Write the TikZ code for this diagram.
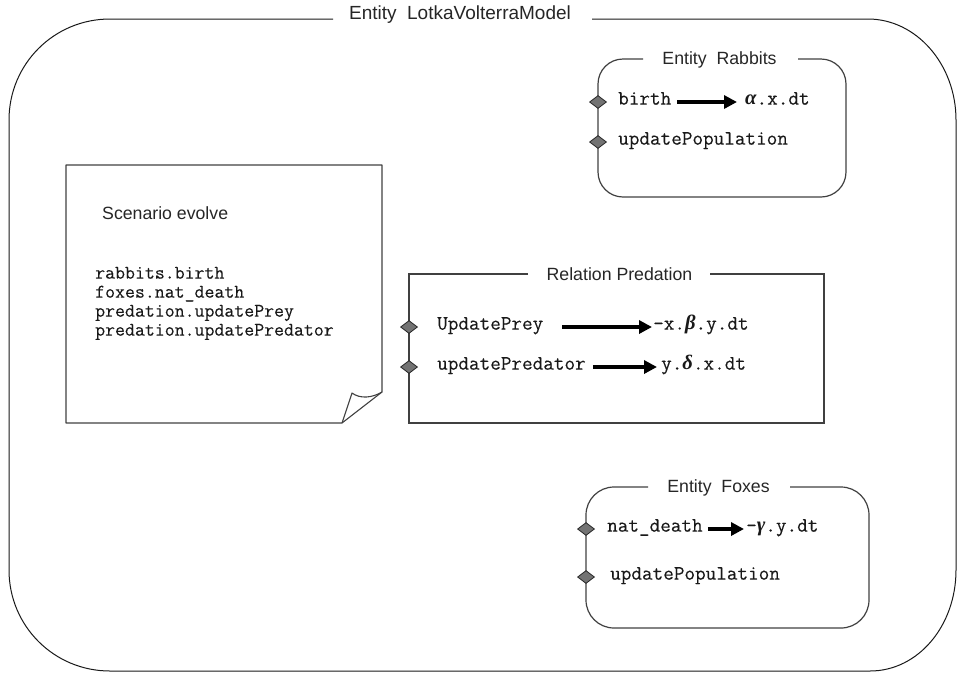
\documentclass[tikz,border=0pt]{standalone}
\usepackage{fontspec}
\setmainfont{Liberation Sans}
\newfontfamily\codefont{Latin Modern Mono}[FakeBold=0.25]
\newfontfamily\grk{Liberation Serif}
\usetikzlibrary{shapes.geometric,arrows.meta}
\newcommand{\gk}[1]{{\grk\bfseries\itshape #1}}
\begin{document}
\begin{tikzpicture}[x=1pt,y=-1pt,
  outerline/.style={draw=black!90, line width=1pt},
  boxline/.style={draw=black!75, line width=1.2pt},
  titletext/.style={font=\fontsize{17.7}{20}\selectfont, inner sep=0pt, text=black!85},
  bigtitle/.style={font=\fontsize{19}{22}\selectfont, inner sep=0pt, text=black!85},
  code/.style={font=\codefont\fontsize{20.6}{22}\selectfont, anchor=west, inner sep=0pt,
     text height=1ex, text depth=0pt, text=black!90},
  scode/.style={font=\codefont\fontsize{19.3}{19}\selectfont, anchor=west, inner sep=0pt,
     text height=1ex, text depth=0pt, text=black!90},
  port/.style={diamond, draw=black!85, fill=black!55, minimum width=17pt, minimum height=13pt,
     inner sep=0pt, line width=0.8pt},
  maps/.style={line width=3.5pt, -{Triangle[length=13pt,width=13pt]}}
]
\useasboundingbox (0,0) rectangle (958,673);

% outer entity
\draw[outerline] (333,19) -- (110,19)
  .. controls (54,19) and (9,64) .. (9,120) -- (9,570)
  .. controls (9,626) and (54,671) .. (110,671) -- (870,671)
  .. controls (918,671) and (956,626) .. (956,570) -- (956,120)
  .. controls (956,64) and (916,19) .. (868,19) -- (592,19);
\node[bigtitle] (tmain) at (460,15) {Entity\ \ LotkaVolterraModel};

% Rabbits
\draw[boxline, rounded corners=25pt] (643,59) -- (598,59) -- (598,197) -- (846,197) -- (846,59) -- (798,59);
\node[titletext] (trab) at (719.5,60) {Entity\ \ Rabbits};
\node[port] (pr1) at (598,102) {};
\node[port] (pr2) at (598,142) {};
\node[code] (rbirth) at (618,102) {birth};
\node[code] (rbf) at (745,102) {\gk{α}.x.dt};
\node[code] (rupd) at (618,142) {updatePopulation};
\draw[maps, shorten <=6pt, shorten >=8pt] (rbirth.east) -- (rbf.west);

% Predation
\draw[boxline] (528,274) -- (409,274) -- (409,423) -- (824,423) -- (824,274) -- (710,274);
\node[titletext] (tpred) at (619.5,274) {Relation Predation};
\node[port] (pp1) at (409,327) {};
\node[port] (pp2) at (409,367) {};
\node[code] (uprey) at (437,327) {UpdatePrey};
\node[code] (upreyf) at (653,327) {-x.\gk{β}.y.dt};
\node[code] (upred) at (437,367) {updatePredator};
\node[code] (upredf) at (661,367) {y.\gk{δ}.x.dt};
\draw[maps, shorten <=19pt, shorten >=1pt] (uprey.east) -- (upreyf.west);
\draw[maps, shorten <=7pt, shorten >=4pt] (upred.east) -- (upredf.west);

% Foxes
\draw[boxline, rounded corners=28pt] (648,487) -- (586,487) -- (586,628) -- (869,628) -- (869,487) -- (790,487);
\node[titletext] (tfox) at (718.5,488) {Entity\ \ Foxes};
\node[port] (pf1) at (586,529) {};
\node[port] (pf2) at (586,577) {};
\node[code] (fnat) at (607,529) {nat\_death};
\node[code] (fnatf) at (746,529) {-\gk{γ}.y.dt};
\node[code] (fupd) at (610,577) {updatePopulation};
\draw[maps, shorten <=5pt, shorten >=2pt] (fnat.east) -- (fnatf.west);

% Scenario note
\draw[boxline, line width=1.1pt, line join=round] (66,165) -- (382,165) -- (382,392) -- (342,423) -- (66,423) -- cycle;
\draw[boxline, line width=1.1pt, line join=round] (342,423) -- (352,393) .. controls (360,399) and (372,398) .. (382,392);
\node[titletext, anchor=west] (tscen) at (102,213) {Scenario evolve};
\node[scode] (s1) at (95,276) {rabbits.birth};
\node[scode] (s2) at (95,295) {foxes.nat\_death};
\node[scode] (s3) at (95,314) {predation.updatePrey};
\node[scode] (s4) at (95,333) {predation.updatePredator};
\end{tikzpicture}
\end{document}
